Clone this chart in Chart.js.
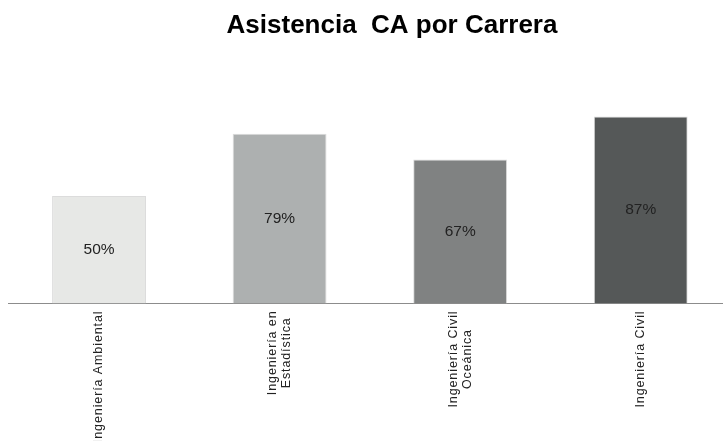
<!DOCTYPE html>
<html>
<head>
<meta charset="utf-8">
<script src="https://cdn.jsdelivr.net/npm/chart.js@4"></script>
<style>
  html, body { margin: 0; padding: 0; background: #fff; overflow: hidden; }
  #wrap { width: 731px; height: 441px; }
</style>
</head>
<body>
<div id="wrap"><canvas id="chart" width="731" height="441"></canvas></div>
<script>
// data
var chartTitle = 'Asistencia  CA por Carrera';
var carreras = [
    ['Ingeniería Ambiental'],
    ['Ingeniería en', 'Estadística'],
    ['Ingeniería Civil', 'Oceánica'],
    ['Ingeniería Civil']
];
var asistencia = [50, 79, 67, 87];
var barColors = ['#e7e8e6', '#adb0b0', '#808282', '#555858'];

var FONT = '"Liberation Sans", Arial, sans-serif';

// title, centred a bit right of the canvas like the original
var titlePlugin = {
    id: 'titlePlugin',
    afterDraw: function (chart) {
        var ctx = chart.ctx;
        ctx.save();
        ctx.font = 'bold 26px ' + FONT;
        ctx.fillStyle = '#000';
        ctx.textAlign = 'center';
        ctx.textBaseline = 'alphabetic';
        ctx.fillText(chartTitle, 392, 33);
        ctx.restore();
    }
};

// percentage labels in the middle of each bar
var valuePlugin = {
    id: 'valuePlugin',
    afterDatasetsDraw: function (chart) {
        var ctx = chart.ctx;
        var meta = chart.getDatasetMeta(0);
        ctx.save();
        if ('letterSpacing' in ctx) ctx.letterSpacing = '0px';
        ctx.font = '15.5px ' + FONT;
        ctx.fillStyle = '#222';
        ctx.textAlign = 'center';
        ctx.textBaseline = 'middle';
        meta.data.forEach(function (bar, i) {
            var mid = (bar.y + bar.base) / 2;
            ctx.fillText(asistencia[i] + '%', bar.x, mid);
        });
        ctx.restore();
    }
};

// rotated, centred multi-line category labels
var labelPlugin = {
    id: 'labelPlugin',
    afterDraw: function (chart) {
        var ctx = chart.ctx;
        var xs = chart.scales.x;
        var lh = 14;
        ctx.save();
        ctx.font = '12.5px ' + FONT;
        ctx.fillStyle = '#222';
        if ('letterSpacing' in ctx) ctx.letterSpacing = '0.9px';
        ctx.textAlign = 'center';
        ctx.textBaseline = 'middle';
        carreras.forEach(function (lines, i) {
            var px = xs.getPixelForValue(i);
            var maxW = 0;
            lines.forEach(function (l) { maxW = Math.max(maxW, ctx.measureText(l).width); });
            ctx.save();
            ctx.translate(px, xs.top + 7);
            ctx.rotate(-Math.PI / 2);
            lines.forEach(function (l, j) {
                var off = (j - (lines.length - 1) / 2) * lh;
                ctx.fillText(l, -maxW / 2, off);
            });
            ctx.restore();
        });
        ctx.restore();
    }
};

var ctx = document.getElementById('chart').getContext('2d');
new Chart(ctx, {
    type: 'bar',
    data: {
        labels: carreras,
        datasets: [{
            data: asistencia,
            backgroundColor: barColors,
            borderColor: '#dcdcdc',
            borderWidth: { top: 1, left: 1, right: 1, bottom: 0 },
            categoryPercentage: 0.52,
            barPercentage: 1
        }]
    },
    options: {
        responsive: false,
        animation: false,
        events: [],
        layout: { padding: { top: 88.5, left: 8.75, right: 0, bottom: 0 } },
        plugins: {
            legend: { display: false },
            title: { display: false },
            tooltip: { enabled: false }
        },
        scales: {
            x: {
                grid: { display: false, drawTicks: false },
                border: { display: true, color: '#8c8c8c', width: 1 },
                ticks: { display: false },
                afterFit: function (scale) { scale.height = 137.5; }
            },
            y: {
                display: false,
                min: 0,
                max: 100
            }
        }
    },
    plugins: [titlePlugin, valuePlugin, labelPlugin]
});
</script>
</body>
</html>
